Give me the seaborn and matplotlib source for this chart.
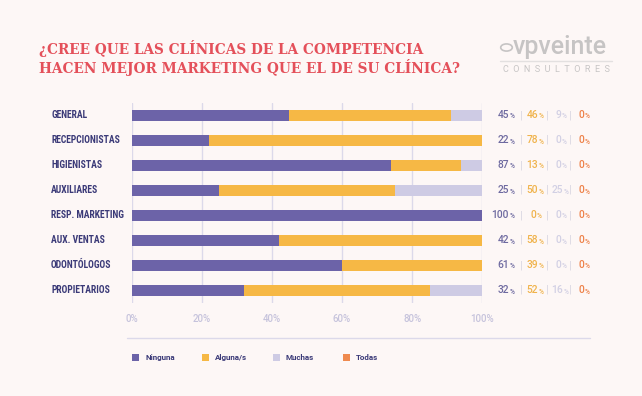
import matplotlib
matplotlib.use("Agg")
import matplotlib.pyplot as plt
import matplotlib.font_manager as fm
import matplotlib.transforms as mtrans
from matplotlib.patches import Circle, Rectangle
from matplotlib.lines import Line2D
import seaborn as sns
import pandas as pd

# ---------------- data ----------------
categories = ["GENERAL", "RECEPCIONISTAS", "HIGIENISTAS", "AUXILIARES",
              "RESP. MARKETING", "AUX. VENTAS", "ODONTÓLOGOS", "PROPIETARIOS"]
series_names = ["Ninguna", "Alguna/s", "Muchas", "Todas"]
# bar lengths as drawn (%)
ninguna = [45, 22, 74, 25, 100, 42, 60, 32]
alguna = [46, 78, 20, 50, 0, 58, 40, 53]
muchas = [9, 0, 6, 25, 0, 0, 0, 15]
todas = [0, 0, 0, 0, 0, 0, 0, 0]
# printed labels on the right
lab_ninguna = ["45", "22", "87", "25", "100", "42", "61", "32"]
lab_alguna = ["46", "78", "13", "50", "0", "58", "39", "52"]
lab_muchas = ["9", "0", "0", "25", "0", "0", "0", "16"]
lab_todas = ["0", "0", "0", "0", "0", "0", "0", "0"]
xticks = [0, 20, 40, 60, 80, 100]
xtick_labels = ["0%", "20%", "40%", "60%", "80%", "100%"]
title_lines = ["¿CREE QUE LAS CLÍNICAS DE LA COMPETENCIA",
               "HACEN MEJOR MARKETING QUE EL DE SU CLÍNICA?"]

# ---------------- style ----------------
BG = "#fdf7f6"
C_PURPLE = "#6c63a8"
C_YELLOW = "#f6b845"
C_LAV = "#cecbe4"
C_ORANGE = "#ef8a4f"
C_NAVY = "#3b3a78"
C_TITLE = "#e4505a"
C_GRID = "#dcd9ea"
C_TICK = "#c6c3dc"
C_LOGO = "#c6c4c4"
lab_colors = ["#6e6aa0", "#f0b34c", "#d2d0e4", "#ee8148"]

sns.set_theme(style="white")

def find_font(*cands):
    files = [f.fname for f in fm.fontManager.ttflist]
    for c in cands:
        for fn in files:
            if fn.split("/")[-1].lower() == c.lower():
                return fm.FontProperties(fname=fn)
    return None

fp_title = (find_font("RobotoSlab-Bold.ttf", "DejaVuSerifCondensed-Bold.ttf")
            or fm.FontProperties(family="DejaVu Serif", weight="bold"))
fp_cat = (find_font("RobotoCondensed-Bold.ttf", "LiberationSansNarrow-Bold.ttf",
                    "DejaVuSansCondensed-Bold.ttf")
          or fm.FontProperties(family="Roboto", weight="bold"))
fp_num = find_font("Inter-Medium.ttf", "Roboto-Medium.ttf") or fm.FontProperties(family="Roboto")
fp_leg = find_font("Inter-SemiBold.ttf", "Roboto-Bold.ttf") or fm.FontProperties(family="Roboto", weight="bold")
fp_logo = find_font("Roboto-Regular.ttf") or fm.FontProperties(family="Roboto")
fp_logo_b = find_font("Roboto-Medium.ttf") or fp_logo

W, H = 642, 396
fig = plt.figure(figsize=(W / 100, H / 100), dpi=100, facecolor=BG)

def fx(px):
    return px / W

def fy(py):
    return 1 - py / H

ax = fig.add_axes([fx(131.7), fy(303), fx(482.3) - fx(131.7), (303 - 103) / H])
ax.set_facecolor(BG)

df = pd.DataFrame({"cat": categories, "Ninguna": ninguna, "Alguna/s": alguna,
                   "Muchas": muchas, "Todas": todas})
cum = df[series_names].cumsum(axis=1)
colors = [C_PURPLE, C_YELLOW, C_LAV, C_ORANGE]
for name, col in reversed(list(zip(series_names, colors))):
    sns.barplot(x=cum[name], y=df["cat"], orient="h", color=col, width=0.44,
                saturation=1, ax=ax, zorder=3, linewidth=0, order=categories)

ax.set_xlim(0, 100)
ax.set_ylim(7.52, -0.48)
ax.set_xticks(xticks)
ax.set_xticklabels(xtick_labels, fontproperties=fp_num, fontsize=7, color=C_TICK)
ax.tick_params(axis="x", length=0, pad=8)
ax.set_yticks(range(len(categories)))
ax.set_yticklabels([])
ax.tick_params(axis="y", length=0)
ax.set_xlabel("")
ax.set_ylabel("")
for s in ax.spines.values():
    s.set_visible(False)
for xv in xticks:
    ax.axvline(xv, color=C_GRID, lw=1, zorder=1)

trans = mtrans.blended_transform_factory(fig.transFigure, ax.transData)

# category labels
for i, c in enumerate(categories):
    ax.text(fx(51), i, c, transform=trans, ha="left", va="center",
            fontproperties=fp_cat, fontsize=6.9, color=C_NAVY)

# right-side percentage labels
col_specs = [(lab_ninguna, 509, "right"), (lab_alguna, 536, "center"),
             (lab_muchas, 561, "center"), (lab_todas, 584, "center")]
for i in range(len(categories)):
    for k, (labs, xp, mode) in enumerate(col_specs):
        num = labs[i]
        xn = xp if mode == "right" else xp + (len(num) - 1) * 2.2
        ax.text(fx(xn), i, num, transform=trans, ha="right", va="center",
                fontproperties=fp_num, fontsize=7.4, color=lab_colors[k])
        ax.text(fx(xn + 0.3), i + 0.06, "%", transform=trans, ha="left", va="center",
                fontproperties=fp_num, fontsize=4.8, color=lab_colors[k])
    for sx in (521, 547, 570):
        ax.text(fx(sx), i, "|", transform=trans, ha="center", va="center",
                fontproperties=fp_logo, fontsize=8, color="#d6d4e0")

# title (two lines, fitted to the reference width)
t1 = fig.text(fx(39), fy(54), title_lines[0], ha="left", va="baseline",
              fontproperties=fp_title, fontsize=12.5, color=C_TITLE)
t2 = fig.text(fx(39), fy(73.5), title_lines[1], ha="left", va="baseline",
              fontproperties=fp_title, fontsize=12.5, color=C_TITLE)
fig.canvas.draw()
scale = (460 - 39) / t2.get_window_extent().width
t1.set_fontsize(12.5 * scale)
t2.set_fontsize(12.5 * scale)

# logo
fig.patches.append(Circle((fx(506.5), fy(47.5)), 5.8 / W, transform=fig.transFigure,
                          fill=False, ec=C_LOGO, lw=1.2))
fig.text(fx(513), fy(47), "vpveinte", ha="left", va="center", fontproperties=fp_logo_b,
         fontsize=18, color=C_LOGO)
fig.lines.append(Line2D([fx(500), fx(612)], [fy(61), fy(61)], transform=fig.transFigure,
                        color="#e3e0e0", lw=1))
fig.text(fx(556), fy(69.5), "C  O  N  S  U  L  T  O  R  E  S", ha="center", va="center",
         fontproperties=fp_logo, fontsize=6.5, color=C_LOGO)

# divider line above legend
fig.lines.append(Line2D([fx(127), fx(590)], [fy(338), fy(338)], transform=fig.transFigure,
                        color="#dcd9ea", lw=1))

# legend
leg_x = [132, 202, 273, 343]
for name, col, lx in zip(series_names, colors, leg_x):
    fig.patches.append(Rectangle((fx(lx), fy(360.5)), 7 / W, 7 / H, transform=fig.transFigure,
                                 color=col, lw=0))
    fig.text(fx(lx + 13), fy(357.3), name, ha="left", va="center", fontproperties=fp_leg,
             fontsize=5.8, color=C_NAVY)

fig.savefig("out.png", dpi=100, facecolor=BG)
